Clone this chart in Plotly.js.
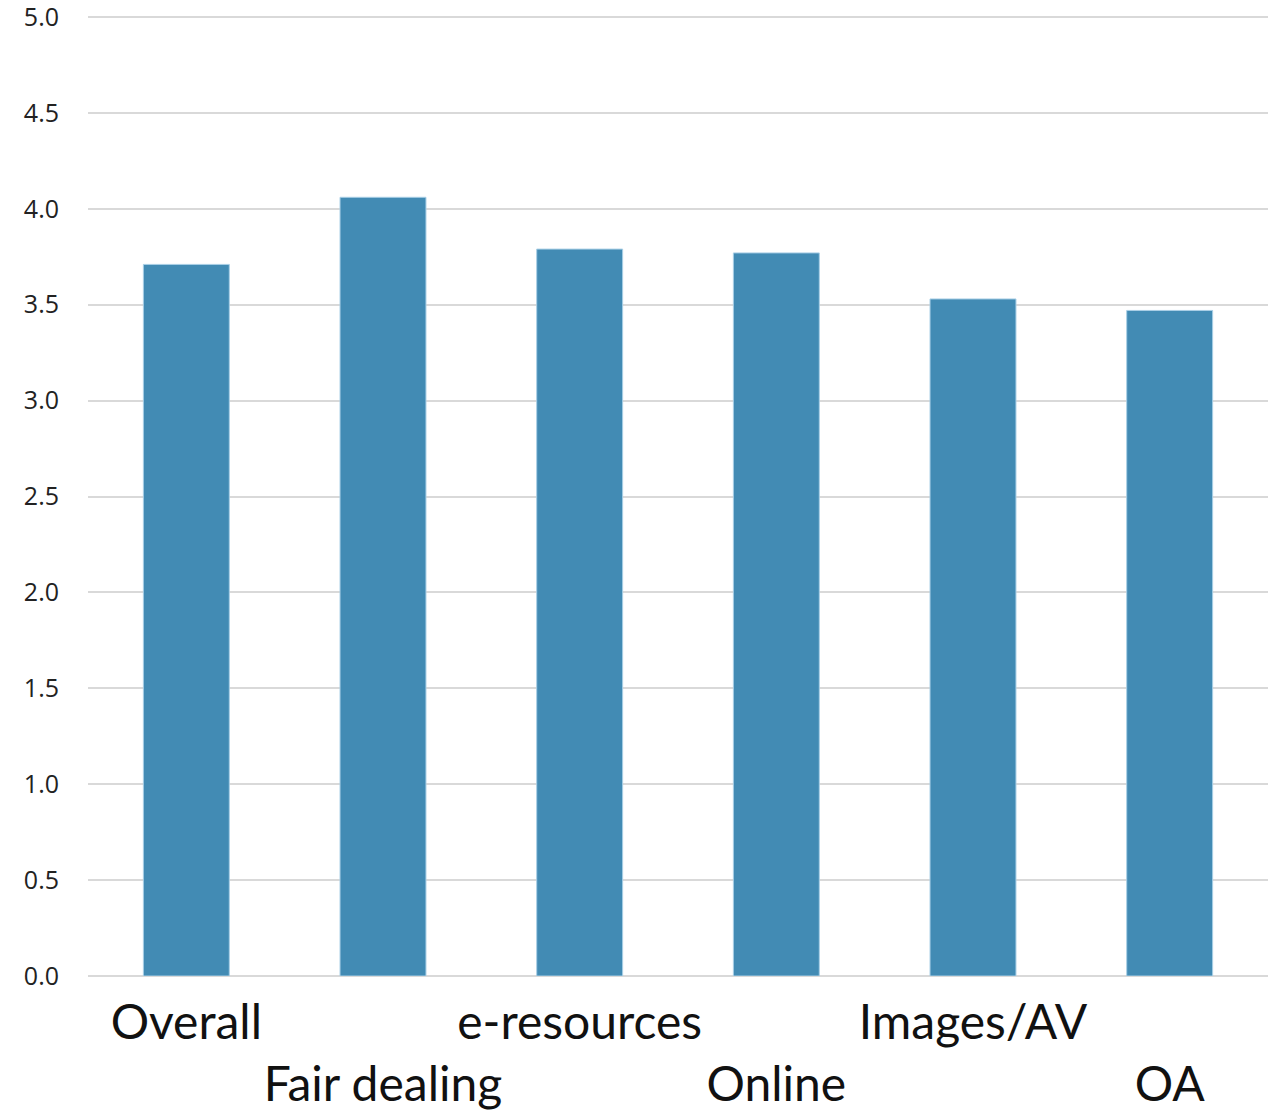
<!DOCTYPE html>
<html>
<head>
<meta charset="utf-8">
<script src="https://cdn.plot.ly/plotly-3.0.1.min.js"></script>
<style>html,body{margin:0;padding:0;background:#fff;}#chart{width:1281px;height:1118px;}</style>
</head>
<body>
<div id="chart"></div>
<script>
const categories = ["Overall", "Fair dealing", "e-resources", "Online", "Images/AV", "OA"];
const scores = [3.71, 4.06, 3.79, 3.77, 3.53, 3.47];
const yTickValues = [0, 0.5, 1, 1.5, 2, 2.5, 3, 3.5, 4, 4.5, 5];

// staggered category labels: every second label drops to a second line
const tickLabels = categories.map((c, i) => (i % 2 === 1 ? "<br>" + c : c));

const trace = {
  type: "bar",
  x: categories,
  y: scores,
  marker: { color: "#428bb4", line: { color: "#a9cfe6", width: 1 } },
  hoverinfo: "x+y"
};

const layout = {
  width: 1281,
  height: 1118,
  margin: { l: 88, r: 13, t: 10, b: 142 },
  paper_bgcolor: "#ffffff",
  plot_bgcolor: "#ffffff",
  bargap: 0.563,
  showlegend: false,
  xaxis: {
    type: "category",
    range: [-0.5, 5.5],
    tickmode: "array",
    tickvals: categories,
    ticktext: tickLabels,
    tickangle: 0,
    ticks: "",
    showgrid: false,
    showline: false,
    zeroline: false,
    automargin: false,
    tickfont: { family: "Lato, 'Open Sans', sans-serif", size: 48, color: "#111111" },
    ticklabelstandoff: 14
  },
  yaxis: {
    range: [0, 5.0365],
    tickmode: "array",
    tickvals: yTickValues,
    tickformat: ".1f",
    ticks: "",
    showgrid: true,
    gridcolor: "#d9d9d9",
    gridwidth: 2,
    zeroline: true,
    zerolinecolor: "#d9d9d9",
    zerolinewidth: 2,
    showline: false,
    automargin: false,
    ticklabeloverflow: "allow",
    tickfont: { family: "'Open Sans', sans-serif", size: 25, color: "#222222" },
    ticklabelstandoff: 28
  }
};

Plotly.newPlot("chart", [trace], layout, { displayModeBar: false, staticPlot: true });
</script>
</body>
</html>
